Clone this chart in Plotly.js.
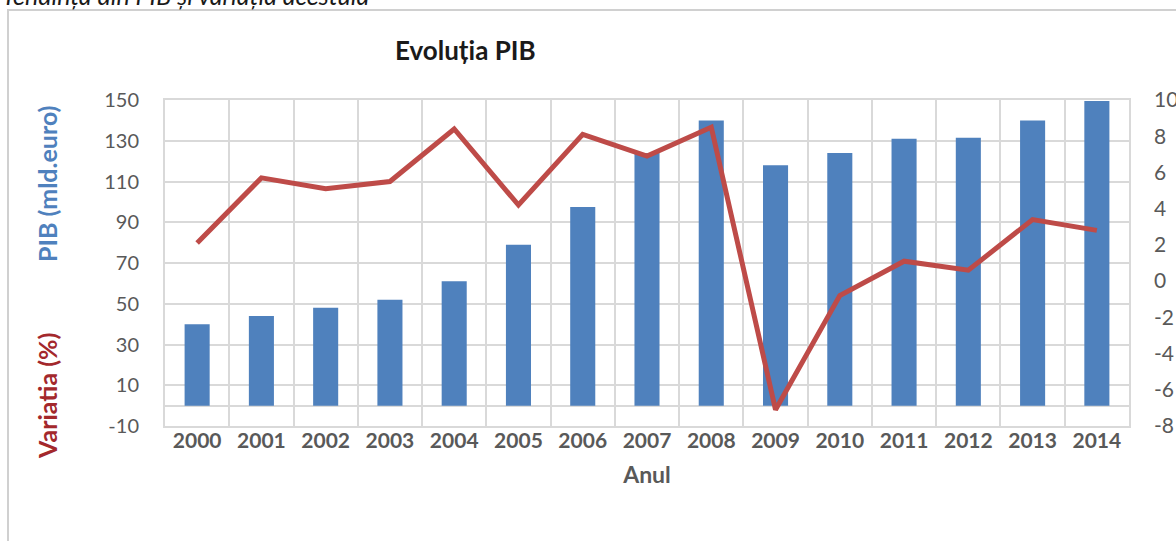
<!DOCTYPE html>
<html>
<head>
<meta charset="utf-8">
<script src="https://cdn.plot.ly/plotly-3.0.1.min.js"></script>
<style>
  html, body { margin: 0; padding: 0; background: #ffffff; }
  #chart { width: 1176px; height: 541px; }
</style>
</head>
<body>
<div id="chart"></div>
<script>
// ---- data ----
const years = ["2000","2001","2002","2003","2004","2005","2006","2007","2008","2009","2010","2011","2012","2013","2014"];
const pib = [40, 44, 48, 52, 61, 79, 97.5, 124, 140, 118, 124, 131, 131.5, 140, 149.5];
const variatia = [2.1, 5.7, 5.1, 5.5, 8.4, 4.2, 8.1, 6.9, 8.5, -7.1, -0.8, 1.1, 0.6, 3.4, 2.8];

// tick labels (hyphen-minus as in the reference)
const pibTickVals = [-10, 10, 30, 50, 70, 90, 110, 130, 150];
const pibTickText = ["-10", "10", "30", "50", "70", "90", "110", "130", "150"];
const varTickVals = [-8, -6, -4, -2, 0, 2, 4, 6, 8, 10];
const varTickText = ["-8", "-6", "-4", "-2", "0", "2", "4", "6", "8", "10"];

const chartTitle = "Evoluția PIB";
const captionTop = "Tendința din PIB și variația acestuia";
const xTitle = "Anul";
const yTitlePib = "PIB (mld.euro)";
const yTitleVar = "Variatia (%)";

// ---- geometry helpers (pixel -> paper) ----
const W = 1176, H = 541;
const M = {l: 165, r: 47, t: 100, b: 115};
const PW = W - M.l - M.r, PH = H - M.t - M.b;
const px = x => (x - M.l) / PW;
const py = y => (H - M.b - y) / PH;

const FONT = "Lato, 'Open Sans', 'DejaVu Sans', sans-serif";
const GRID = "#d9d9d9";
const TXT = "#595959";

const traces = [
  {
    type: "bar",
    x: years,
    y: pib,
    name: "PIB",
    marker: {color: "#4f81bd"},
    yaxis: "y",
    hoverinfo: "x+y"
  },
  {
    type: "scatter",
    mode: "lines",
    x: years,
    y: variatia,
    name: "Variatia",
    line: {color: "#be4b48", width: 5},
    yaxis: "y2",
    hoverinfo: "x+y"
  }
];

const layout = {
  width: W,
  height: H,
  margin: {l: M.l, r: M.r, t: M.t, b: M.b, pad: 0},
  paper_bgcolor: "#ffffff",
  plot_bgcolor: "#ffffff",
  showlegend: false,
  bargap: 0.61,
  font: {family: FONT, color: TXT},
  xaxis: {
    type: "category",
    tickson: "boundaries",
    showgrid: true,
    gridcolor: GRID,
    gridwidth: 2,
    showline: true,
    mirror: true,
    linecolor: GRID,
    linewidth: 2,
    ticks: "",
    tickfont: {family: FONT, size: 21, color: TXT, weight: "bold"},
    ticklabelstandoff: -5,
    title: {text: xTitle, font: {family: FONT, size: 23, color: TXT, weight: "bold"}, standoff: 16},
    fixedrange: true
  },
  yaxis: {
    range: [-10, 150],
    tickmode: "array",
    tickvals: pibTickVals,
    ticktext: pibTickText,
    showgrid: true,
    gridcolor: GRID,
    gridwidth: 2,
    zeroline: true,
    zerolinecolor: GRID,
    zerolinewidth: 2,
    showline: true,
    mirror: true,
    linecolor: GRID,
    linewidth: 2,
    ticks: "",
    tickfont: {family: FONT, size: 20, color: TXT},
    ticklabelstandoff: 20,
    fixedrange: true
  },
  yaxis2: {
    overlaying: "y",
    side: "right",
    range: [-8, 10],
    tickmode: "array",
    tickvals: varTickVals,
    ticktext: varTickText,
    showgrid: false,
    zeroline: false,
    showline: false,
    ticks: "",
    tickfont: {family: FONT, size: 21, color: TXT},
    ticklabelstandoff: 24,
    fixedrange: true
  },
  shapes: [
    {
      type: "rect", xref: "paper", yref: "paper", layer: "below",
      x0: px(8), x1: px(1200), y0: py(560), y1: py(10),
      line: {color: "#d0d0d0", width: 2}, fillcolor: "rgba(0,0,0,0)"
    }
  ],
  annotations: [
    {
      text: chartTitle, xref: "paper", yref: "paper",
      x: px(465), y: py(50), xanchor: "center", yanchor: "middle",
      showarrow: false,
      font: {family: FONT, size: 26, color: "#1a1a1a", weight: "bold"}
    },
    {
      text: captionTop, xref: "paper", yref: "paper",
      x: px(0), y: py(12), xanchor: "left", yanchor: "bottom",
      showarrow: false,
      font: {family: FONT, size: 25, color: "#1a1a1a", style: "italic"}
    },
    {
      text: yTitlePib, xref: "paper", yref: "paper",
      x: px(47), y: py(184), xanchor: "center", yanchor: "middle",
      textangle: -90, showarrow: false,
      font: {family: FONT, size: 25, color: "#4f81bd", weight: "bold"}
    },
    {
      text: yTitleVar, xref: "paper", yref: "paper",
      x: px(47), y: py(396), xanchor: "center", yanchor: "middle",
      textangle: -90, showarrow: false,
      font: {family: FONT, size: 25, color: "#a3282c", weight: "bold"}
    }
  ]
};

Plotly.newPlot("chart", traces, layout, {displayModeBar: false, staticPlot: true});
</script>
</body>
</html>
